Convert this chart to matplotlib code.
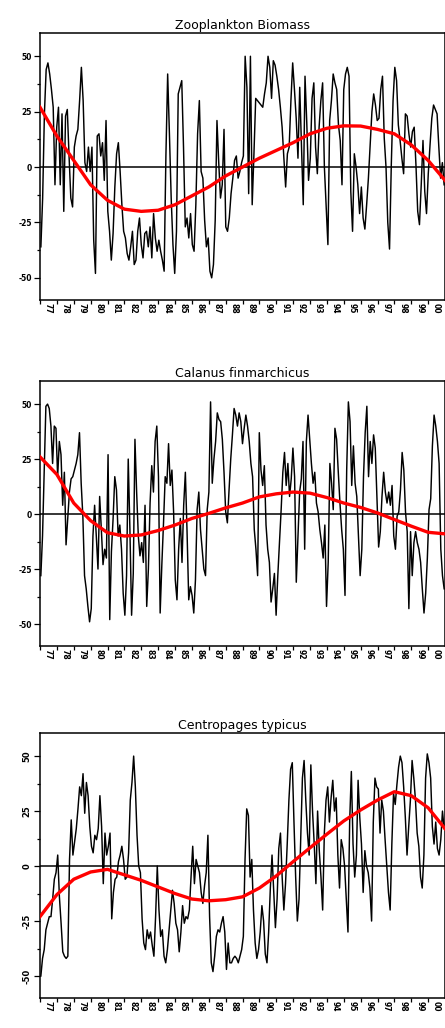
import numpy as np
import matplotlib.pyplot as plt
from matplotlib.ticker import MultipleLocator

# years shown on the x axis (1977-2000)
years = list(range(1977, 2001))
year_labels = ["%02d" % (y % 100) for y in years]

titles = ["Zooplankton Biomass", "Calanus finmarchicus", "Centropages typicus"]

# anomaly series (left half then right half)
zoo_biomass = [
    -36, -14, 24, 44, 47, 42, 35, 27, -8, 18, 27, -8, 24, -20, 23, 26, 5, -14, -18, 9,
    14, 17, 30, 45, 30, 2, -2, 9, -2, 9, -33, -48, 14, 15, 5, 11, -6, 21, -20, -29,
    -42, -30, -9, 6, 11, -2, -17, -29, -32, -39, -42, -36, -29, -44, -42, -29, -23, -35, -41, -30,
    -29, -36, -27, -41, -21, -32, -38, -33, -38, -42, -47, 5, 42, 15, -14, -35, -48, -29, 33, 36,
    39, 9, -27, -23, -32, -21, -35, -38, -17, 15, 30, -2, -5, -24, -36, -32, -47, -50, -44, -24,
    21, 2, -14, -8, 17, -27, -29, -23, -12, -5, 3, 5, -5, -2, 2, 5, 50, 36,
    -12, 50, -17, 6, 31, 30, 29, 28, 27, 33, 38, 50, 45, 31, 48, 46, 41, 35, 27, 18,
    4, -9, 6, 9, 30, 47, 35, 22, 4, 36, 9, -17, 41, 20, -6, 4, 31, 38, 9, -3,
    18, 30, 38, 0, -17, -35, 21, 30, 42, 38, 35, 19, 12, -8, 35, 42, 45, 41, -11, -29,
    6, 0, -8, -21, -9, -23, -28, -17, -5, 10, 25, 33, 28, 21, 22, 35, 41, 13, 0, -25,
    -37, 1, 30, 45, 39, 19, 12, 4, -3, 24, 23, 15, 9, 16, 18, 1, -20, -26, -8, 12,
    -11, -21, -3, 10, 22, 28, 26, 24, 9, -5, 2, -8,
]
calanus = [
    -28, -10, 20, 49, 50, 48, 40, 23, 40, 39, 17, 33, 27, 4, 19, -14, -2, 10, 16, 17,
    20, 23, 27, 37, 14, -1, -28, -34, -42, -49, -43, -10, 4, -10, -25, 8, -7, -23, -16, -20,
    27, -48, -17, -2, 17, 11, -10, -5, -16, -36, -46, -28, 25, -7, -46, -27, 34, 10, -10, -19,
    -13, -22, 4, -42, -25, 5, 22, 10, 33, 40, 17, -45, -23, -4, 17, 14, 32, 13, 20, 1,
    -30, -39, -16, -2, -22, 4, 19, -8, -39, -33, -37, -45, -30, 2, 10, -7, -16, -25, -28, 2,
    10, 51, 14, 25, 33, 46, 43, 42, 34, 19, 1, -4, 11, 25, 36, 48, 45, 40, 46, 42,
    32, 39, 45, 40, 33, 23, 17, -7, -16, -28, 37, 20, 13, 22, -5, -16, -22, -40, -34, -27,
    -46, -28, -13, 2, 19, 28, 13, 23, 8, 16, 30, 17, -31, -10, 10, 16, 33, -16, 33, 45,
    34, 23, 14, 19, 5, 1, -7, -13, -20, -5, -42, -22, 23, 14, 2, 39, 34, 19, 5, -7,
    -16, -37, 20, 51, 42, 13, 31, 14, 8, -10, -28, -16, 17, 37, 49, 17, 33, 23, 36, 30,
    8, -15, -8, 8, 19, 10, 5, 10, 4, 13, -10, -16, -1, 1, 11, 28, 20, 1, -8, -43,
    -8, -28, -13, -8, -13, -16, -22, -34, -45, -36, -20, 2, 7, 31, 45, 40, 33, 23, -16, -28,
    -34,
]
centropages = [
    -50, -42, -38, -29, -26, -23, -23, -15, -6, -3, 5, -14, -26, -39, -41, -42, -41, 3, 21, 5,
    11, 17, 26, 36, 32, 42, 24, 38, 32, 18, 9, 6, 14, 12, 17, 32, 18, -8, 15, 5,
    9, 15, -24, -12, -6, -5, 2, 5, 9, 3, -6, -5, 6, 30, 38, 50, 36, 14, 0, -3,
    -24, -35, -38, -29, -33, -30, -36, -41, -23, 0, -20, -32, -29, -41, -44, -38, -29, -20, -11, -17,
    -26, -29, -39, -30, -18, -26, -23, -24, -20, -5, 9, -8, 3, 0, -3, -12, -17, -9, -3, 14,
    -23, -44, -48, -41, -32, -29, -30, -26, -23, -30, -47, -35, -44, -44, -42, -41, -42, -44, -41, -38,
    -32, 3, 26, 23,
    -5, 3, -20, -35, -42, -38, -30, -18, -25, -40, -44, -30, -10, 5, -12, -28, -15, 8, 15, -5,
    -20, -8, 10, 30, 44, 47, 20, -5, -25, -15, 12, 40, 48, 30, 15, 5,
    46, 25, 10, -8, 25, 7, -5, -20, 15, 30, 36, 20, 31, 39, 25, 31, 5, -10, 12, 8,
    0, -15, -30, 20, 43, 10, -5, 5, 39, 22, 10, -12, 7, 0, -3, -10, -25, 20, 40, 36,
    35, 15, 30, 25, 12, 0, -12, -20, 10, 33, 28, 37, 45, 50, 47, 36, 22, 5, 18, 30,
    48, 40, 30, 15, 9, -5, -10, 5, 40, 51, 47, 40, 18, 10, 20, 8, 5, 12, 25, 17,
]

# smoothed trend, one value per year start 1977..2001
trend_years = list(range(1977, 2002))
zoo_trend = [27, 14, 3, -8, -15, -19, -20, -19.5, -17, -13, -9, -4, 0, 4, 7.5, 11,
             15, 17.5, 18.6, 18.5, 17, 15, 10, 3, -6]
calanus_trend = [26, 18, 5, -3, -8.5, -10, -9.5, -7.5, -5, -2, 0.3, 2.8, 5, 7.8, 9.2,
                 10, 9.5, 7.5, 5, 3, 0.5, -2.5, -5.5, -8.3, -9]
centropages_trend = [-23, -13, -6, -2.7, -1.5, -4, -6.5, -9.5, -12.5, -15, -15.8, -15.3,
                     -14, -10, -4.5, 2, 8.3, 14.5, 20.5, 25.5, 30, 33.8, 32, 26.5, 17]

series = [zoo_biomass, calanus, centropages]
trends = [zoo_trend, calanus_trend, centropages_trend]

W, H = 445, 1028
fig = plt.figure(figsize=(W / 100, H / 100), dpi=100)

# axes boxes in pixels: (top, bottom)
boxes = [(33, 300), (381, 646), (733, 998)]
left_px = 40

for k, (top, bottom) in enumerate(boxes):
    ax = fig.add_axes([left_px / W, 1 - bottom / H, (W - left_px) / W, (bottom - top) / H])
    vals = series[k]
    n = len(vals)
    x = 1977 + 24 * (np.arange(n) + 0.5) / n
    ax.plot(x, vals, color="black", lw=1.05, zorder=2)
    ax.axhline(0, color="black", lw=1.1, zorder=1)
    ax.plot(trend_years, trends[k], color="#ff0000", lw=2.4, zorder=3)

    ax.set_xlim(1977, 2001)
    ax.set_ylim(-60, 60.5)

    ax.set_xticks(years)
    ax.set_xticklabels([])
    ax.set_xticks([y + 0.5 for y in years], minor=True)
    ax.set_xticklabels(year_labels, minor=True, rotation=270, fontsize=5.5,
                       va="top", ha="center", fontweight="bold")
    ax.tick_params(axis="x", which="major", direction="out", length=3, width=0.9)
    ax.tick_params(axis="x", which="minor", length=0, pad=2.5)

    ax.set_yticks([-50, -25, 0, 25, 50])
    ax.yaxis.set_minor_locator(MultipleLocator(12.5))
    if k == 2:
        ax.set_yticklabels(["-50", "-25", "0", "25", "50"], rotation=90, va="center",
                           fontsize=6, fontweight="bold")
    else:
        ax.set_yticklabels(["-50", "-25", "0", "25", "50"], fontsize=5.5,
                           fontweight="bold")
    ax.tick_params(axis="y", which="major", direction="out", length=4, width=0.9, pad=2)
    ax.tick_params(axis="y", which="minor", direction="out", length=2.5, width=0.9)

    for s in ax.spines.values():
        s.set_linewidth(1.1)

    ax.set_title(titles[k], fontsize=9, pad=3)

fig.savefig("out.png", dpi=100)
